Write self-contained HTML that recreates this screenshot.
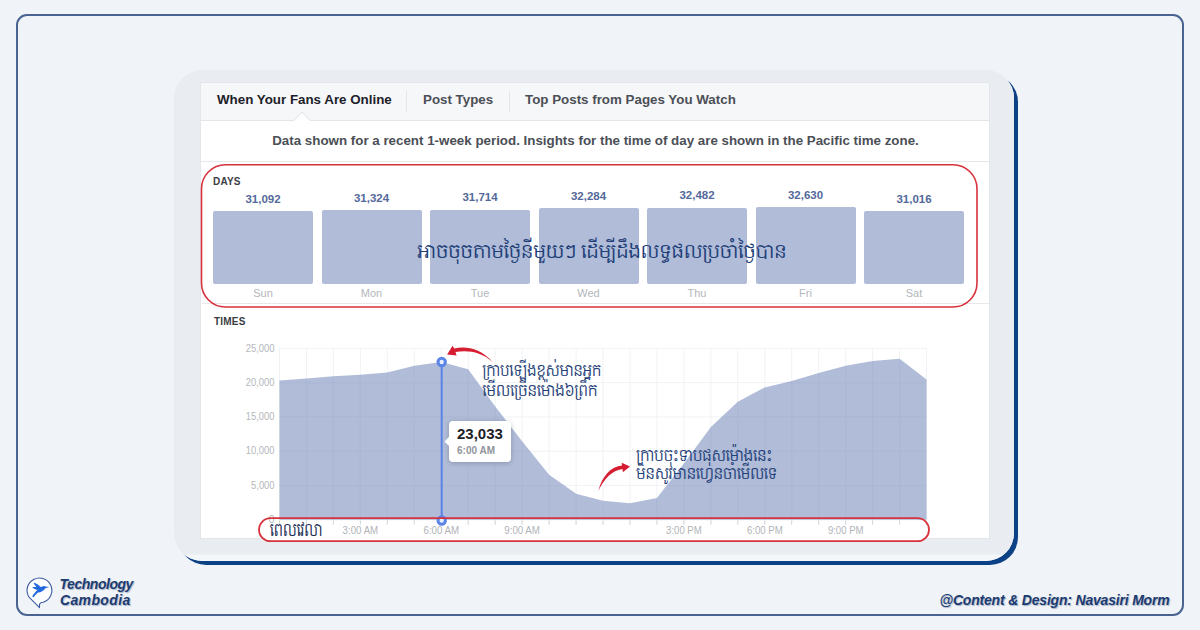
<!DOCTYPE html>
<html lang="km">
<head>
<meta charset="utf-8">
<title>When Your Fans Are Online</title>
<style>
*{box-sizing:border-box;margin:0;padding:0}
html,body{width:1200px;height:630px;overflow:hidden}
body{background:#f0f4f8;font-family:"Liberation Sans","Hanuman","Noto Serif Khmer","Noto Sans Khmer",sans-serif;position:relative}
.abs{position:absolute}
.frame{position:absolute;left:16px;top:14px;width:1168px;height:602px;border:2px solid #4a6391;border-radius:11px}
.card{position:absolute;left:174px;top:70px;width:840px;height:491px;border-radius:28px;background:linear-gradient(#e9edf1 0,#e9edf1 484px,#f3f7fa 485px);box-shadow:4px 4px 0 #0d4186}
.panel{position:absolute;left:200px;top:82px;width:790px;height:457px;background:#fff;border:1px solid #e3e6ea}
.tabs{position:absolute;left:0;top:0;width:100%;height:38px;background:#f6f7f9;border-bottom:1px solid #e2e5e9}
.tab{position:absolute;top:0;height:37px;line-height:34px;font-size:13.35px;font-weight:bold;color:#4b4f56;white-space:nowrap}
.tab.act{color:#1d2129}
.sep{position:absolute;top:8px;width:1px;height:21px;background:#e3e5e9}
.notch{position:absolute;left:95px;top:31px;width:12px;height:12px;background:#fff;border-left:1px solid #e2e5e9;border-top:1px solid #e2e5e9;transform:rotate(45deg)}
.info{position:absolute;left:0;top:38px;width:100%;height:41px;line-height:39px;padding-left:1px;text-align:center;font-size:13.35px;font-weight:bold;color:#4b4f56;border-bottom:1px solid #e6e8eb;background:#fff}
.sec{position:absolute;font-size:10px;font-weight:bold;color:#3a3d42;letter-spacing:.2px}
.bar{position:absolute;width:100px;background:#b0bcd8;border-radius:2px}
.val{position:absolute;width:100px;text-align:center;font-size:11.5px;font-weight:bold;color:#53699a}
.day{position:absolute;width:100px;text-align:center;font-size:11px;color:#b3b6bb}
.km{font-family:"Hanuman","Noto Serif Khmer","Khmer OS","Noto Sans Khmer","Liberation Serif",serif;color:#1f3f78;white-space:nowrap}
.ft{font-weight:bold;font-style:italic;font-size:13.6px;color:#1c3b70;white-space:nowrap;text-shadow:1px 1px 1px rgba(28,59,112,.35)}
</style>
</head>
<body>
<div class="frame"></div>
<div class="card"></div>
<div class="panel">
  <div class="tabs">
    <div class="tab act" style="left:16px">When Your Fans Are Online</div>
    <div class="sep" style="left:205px"></div>
    <div class="tab" style="left:222px">Post Types</div>
    <div class="sep" style="left:308px"></div>
    <div class="tab" style="left:324px">Top Posts from Pages You Watch</div>
  </div>
  <div class="notch"></div>
  <div class="info">Data shown for a recent 1-week period. Insights for the time of day are shown in the Pacific time zone.</div>
</div>

<div class="sec" style="left:213px;top:175.7px">DAYS</div>
<div class="val" style="left:213.0px;top:192.8px">31,092</div><div class="bar" style="left:213.0px;top:211.3px;height:72.8px"></div><div class="day" style="left:213.0px;top:287px">Sun</div>
<div class="val" style="left:321.5px;top:191.9px">31,324</div><div class="bar" style="left:321.5px;top:210.4px;height:73.7px"></div><div class="day" style="left:321.5px;top:287px">Mon</div>
<div class="val" style="left:430.0px;top:191.1px">31,714</div><div class="bar" style="left:430.0px;top:209.6px;height:74.5px"></div><div class="day" style="left:430.0px;top:287px">Tue</div>
<div class="val" style="left:538.5px;top:189.8px">32,284</div><div class="bar" style="left:538.5px;top:208.3px;height:75.8px"></div><div class="day" style="left:538.5px;top:287px">Wed</div>
<div class="val" style="left:647.0px;top:189.3px">32,482</div><div class="bar" style="left:647.0px;top:207.8px;height:76.3px"></div><div class="day" style="left:647.0px;top:287px">Thu</div>
<div class="val" style="left:755.5px;top:188.9px">32,630</div><div class="bar" style="left:755.5px;top:207.4px;height:76.7px"></div><div class="day" style="left:755.5px;top:287px">Fri</div>
<div class="val" style="left:864.0px;top:192.7px">31,016</div><div class="bar" style="left:864.0px;top:211.2px;height:72.9px"></div><div class="day" style="left:864.0px;top:287px">Sat</div>
<div class="abs" style="left:202px;top:303px;width:787px;height:1px;background:#e6e8eb"></div>
<div class="sec" style="left:214px;top:315.5px">TIMES</div>
<svg class="abs" style="left:0;top:0" width="1200" height="630" viewBox="0 0 1200 630">
<rect x="259" y="518.2" width="670" height="23" rx="11.5" ry="11.5" fill="#fff"/>
<path d="M279.5 348.3V524.8 M306.5 348.3V524.8 M333.4 348.3V524.8 M360.4 348.3V524.8 M387.3 348.3V524.8 M414.3 348.3V524.8 M441.3 348.3V524.8 M468.2 348.3V524.8 M495.2 348.3V524.8 M522.1 348.3V524.8 M549.1 348.3V524.8 M576.1 348.3V524.8 M603.0 348.3V524.8 M630.0 348.3V524.8 M656.9 348.3V524.8 M683.9 348.3V524.8 M710.9 348.3V524.8 M737.8 348.3V524.8 M764.8 348.3V524.8 M791.7 348.3V524.8 M818.7 348.3V524.8 M845.7 348.3V524.8 M872.6 348.3V524.8 M899.6 348.3V524.8 M926.5 348.3V524.8 M279.5 348.3H926.5 M279.5 382.6H926.5 M279.5 416.9H926.5 M279.5 451.2H926.5 M279.5 485.5H926.5 M279.5 519.8H926.5 " stroke="#f0f2f4" stroke-width="1" fill="none"/>
<defs><clipPath id="areaclip"><polygon points="279.5,519.8 279.5,380.4 306.5,378.5 333.4,376.3 360.4,374.7 387.3,372.5 414.3,365.8 441.3,362.0 468.2,369.3 495.2,406.4 522.1,441.3 549.1,474.7 576.1,493.7 603.0,500.7 630.0,503.3 656.9,497.9 683.9,463.6 710.9,427.1 737.8,401.7 764.8,387.4 791.7,381.0 818.7,373.1 845.7,365.8 872.6,361.0 899.6,358.8 926.5,379.4 926.5,519.8"/></clipPath></defs>
<polygon points="279.5,519.8 279.5,380.4 306.5,378.5 333.4,376.3 360.4,374.7 387.3,372.5 414.3,365.8 441.3,362.0 468.2,369.3 495.2,406.4 522.1,441.3 549.1,474.7 576.1,493.7 603.0,500.7 630.0,503.3 656.9,497.9 683.9,463.6 710.9,427.1 737.8,401.7 764.8,387.4 791.7,381.0 818.7,373.1 845.7,365.8 872.6,361.0 899.6,358.8 926.5,379.4 926.5,519.8" fill="#b0bcd8"/>
<path clip-path="url(#areaclip)" d="M279.5 348.3V524.8 M306.5 348.3V524.8 M333.4 348.3V524.8 M360.4 348.3V524.8 M387.3 348.3V524.8 M414.3 348.3V524.8 M441.3 348.3V524.8 M468.2 348.3V524.8 M495.2 348.3V524.8 M522.1 348.3V524.8 M549.1 348.3V524.8 M576.1 348.3V524.8 M603.0 348.3V524.8 M630.0 348.3V524.8 M656.9 348.3V524.8 M683.9 348.3V524.8 M710.9 348.3V524.8 M737.8 348.3V524.8 M764.8 348.3V524.8 M791.7 348.3V524.8 M818.7 348.3V524.8 M845.7 348.3V524.8 M872.6 348.3V524.8 M899.6 348.3V524.8 M926.5 348.3V524.8 M279.5 348.3H926.5 M279.5 382.6H926.5 M279.5 416.9H926.5 M279.5 451.2H926.5 M279.5 485.5H926.5 M279.5 519.8H926.5 " stroke="#8a9cc4" stroke-opacity="0.13" stroke-width="1" fill="none"/>
<g font-family="Liberation Sans, sans-serif" font-size="10.4" fill="#b4b7bc" text-anchor="end" lengthAdjust="spacingAndGlyphs"><text x="274.5" y="351.5" textLength="28.7" lengthAdjust="spacingAndGlyphs">25,000</text><text x="274.5" y="385.8" textLength="28.7" lengthAdjust="spacingAndGlyphs">20,000</text><text x="274.5" y="420.1" textLength="28.7" lengthAdjust="spacingAndGlyphs">15,000</text><text x="274.5" y="454.4" textLength="28.7" lengthAdjust="spacingAndGlyphs">10,000</text><text x="274.5" y="488.7" textLength="23.4" lengthAdjust="spacingAndGlyphs">5,000</text><text x="274.5" y="523.0">0</text></g>
<path d="M279.5 520.5V524.6 M306.5 520.5V524.6 M333.4 520.5V524.6 M360.4 520.5V524.6 M387.3 520.5V524.6 M414.3 520.5V524.6 M441.3 520.5V524.6 M468.2 520.5V524.6 M495.2 520.5V524.6 M522.1 520.5V524.6 M549.1 520.5V524.6 M576.1 520.5V524.6 M603.0 520.5V524.6 M630.0 520.5V524.6 M656.9 520.5V524.6 M683.9 520.5V524.6 M710.9 520.5V524.6 M737.8 520.5V524.6 M764.8 520.5V524.6 M791.7 520.5V524.6 M818.7 520.5V524.6 M845.7 520.5V524.6 M872.6 520.5V524.6 M899.6 520.5V524.6 M926.5 520.5V524.6 " stroke="#d3d6db" stroke-width="1" fill="none"/>
<g font-family="Liberation Sans, sans-serif" font-size="10.8" fill="#b1b4b9" text-anchor="middle"><text x="360.4" y="534.3" textLength="35.6" lengthAdjust="spacingAndGlyphs">3:00 AM</text><text x="441.3" y="534.3" textLength="35.6" lengthAdjust="spacingAndGlyphs">6:00 AM</text><text x="522.1" y="534.3" textLength="35.6" lengthAdjust="spacingAndGlyphs">9:00 AM</text><text x="683.9" y="534.3" textLength="35.6" lengthAdjust="spacingAndGlyphs">3:00 PM</text><text x="764.8" y="534.3" textLength="35.6" lengthAdjust="spacingAndGlyphs">6:00 PM</text><text x="845.7" y="534.3" textLength="35.6" lengthAdjust="spacingAndGlyphs">9:00 PM</text></g>
<line x1="441.7" y1="362" x2="441.7" y2="520" stroke="#5b84e6" stroke-width="2"/>
<circle cx="441.7" cy="362" r="3.7" fill="#e6efff" stroke="#5b84e6" stroke-width="3"/>
<circle cx="441.7" cy="520.5" r="3.7" fill="#e6efff" stroke="#5b84e6" stroke-width="3"/>
<rect x="201.5" y="164.7" width="775.5" height="142.3" rx="24" ry="24" fill="none" stroke="#d8323c" stroke-width="1.6"/>
<rect x="259" y="518.2" width="670" height="23" rx="11.5" ry="11.5" fill="none" stroke="#d8323c" stroke-width="1.8"/>
<path d="M447.1 354.4L452.6 345.7L454.3 348.5C466 345.8 481 348.6 492.9 362.2C481 351.6 468 350.0 455.5 352.0L456.6 355.5Z" fill="#d61e33"/>
<path d="M630 466.4L621.7 462.7L622 465.5C611 466.6 602 476 598.3 491C603.8 478.8 612 470.4 622.4 468.9L622.9 472.2Z" fill="#d61e33"/>
</svg>
<div class="abs" style="left:448.5px;top:420.5px;width:62px;height:41px;background:#fff;border-radius:4px;box-shadow:0 1px 5px rgba(0,0,0,.22)">
<div class="abs" style="left:-3px;top:17px;width:7px;height:7px;background:#fff;transform:rotate(45deg)"></div>
<div class="abs" style="left:8.5px;top:4px;font-size:15px;font-weight:bold;color:#1d2129;line-height:17px;white-space:nowrap">23,033</div>
<div class="abs" style="left:8.5px;top:24.5px;font-size:10px;font-weight:bold;color:#90949c;line-height:12px;white-space:nowrap">6:00 AM</div>
</div>
<svg class="abs" style="left:0;top:0" width="1200" height="630" viewBox="0 0 1200 630" font-family="Content, Siemreap, 'Khmer OS Content', 'Khmer OS Siemreap', 'Khmer OS', Hanuman, 'Noto Serif Khmer', 'Noto Sans Khmer', 'Liberation Serif', serif" fill="#1f3f78">
<text id="k1" transform="translate(417.5 257.5) scale(1.0008 1)" font-size="18" textLength="368.7" lengthAdjust="spacingAndGlyphs">អាចចុចតាមថ្ងៃនីមួយៗ ដើម្បីដឹងលទ្ធផលប្រចាំថ្ងៃបាន</text>
<text id="k2" transform="translate(482.5 376.3) scale(0.9282 1)" font-size="14.6" textLength="128.0" lengthAdjust="spacingAndGlyphs">ក្រាបឡើងខ្ពស់មានអ្នក</text>
<text id="k3" transform="translate(482.5 396.3) scale(0.9520 1)" font-size="14.6" textLength="120.8" lengthAdjust="spacingAndGlyphs">មើលច្រើនម៉ោង៦ព្រឹក</text>
<text id="k4" transform="translate(636.3 461.2) scale(0.9174 1)" font-size="15" textLength="148.2" lengthAdjust="spacingAndGlyphs">ក្រាបចុះទាបផុសម៉ោងនេះ</text>
<text id="k5" transform="translate(636.3 479.2) scale(0.9072 1)" font-size="15" textLength="155.4" lengthAdjust="spacingAndGlyphs">មិនសូវមានហ្វេនចាំមើលទេ</text>
<text id="k6" transform="translate(270 536) scale(0.8357 1)" font-size="16" textLength="62.8" lengthAdjust="spacingAndGlyphs" fill="#1e2f55">ពេលវេលា</text>
</svg>
<svg class="abs" style="left:22px;top:572px" width="36" height="40" viewBox="0 0 36 40">
<path d="M21.08 30.26A12.4 12.4 0 1 0 7.05 25.15L17.5 35.6L17.5 32.6C17.6 31.2 18.9 30.5 21.08 30.26Z" fill="#fdfeff" stroke="#3d5ba2" stroke-width="1.1" stroke-linejoin="round"/>
<path d="M27.3 15.1L23.4 14.6C22.6 14 21.4 13.9 20.6 14.4L18.6 15C16.8 12.8 14.4 11.4 11.4 10.6C12.2 12.4 13.2 13.8 14.4 15L10.1 15C11.4 16.6 13.4 17.6 15.4 18C13.6 19.6 11.6 22 10.2 24.4L11.6 25.2C12.8 23.4 14.4 21.6 16.2 20.4C19 20.4 21.6 18.6 23.4 16.2Z" fill="#2468e0"/>
</svg>
<div class="abs ft" style="left:59.5px;top:575.7px;line-height:16px;font-size:14px;letter-spacing:-.46px">Technology</div>
<div class="abs ft" style="left:60px;top:592.4px;line-height:16px;font-size:14px;letter-spacing:.36px">Cambodia</div>
<div class="abs ft" style="right:30.5px;top:592px;line-height:17px;font-size:14px;letter-spacing:-.19px">@Content &amp; Design: Navasiri Morm</div>
</body>
</html>
